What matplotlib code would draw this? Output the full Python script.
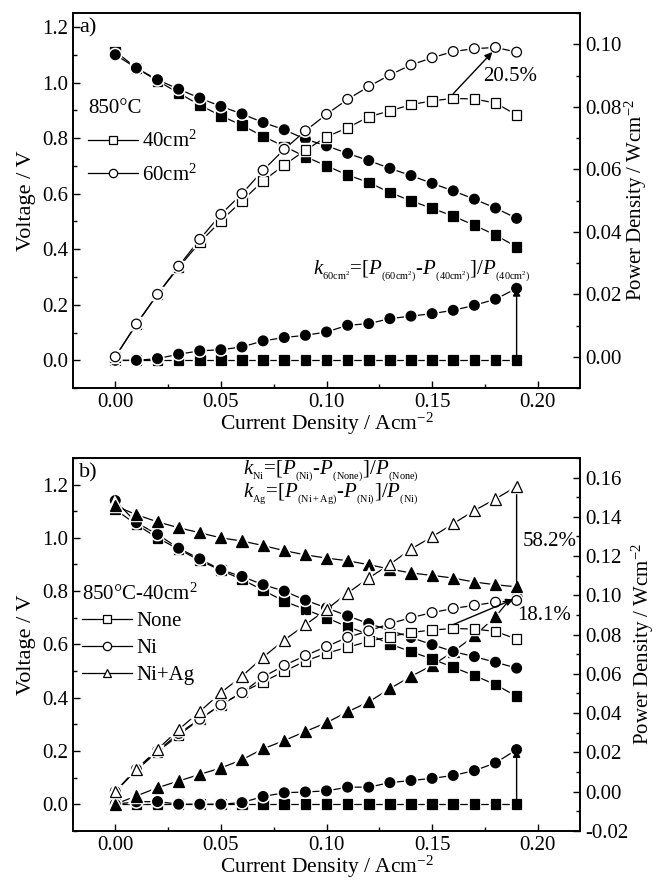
import numpy as np
import matplotlib
matplotlib.use('Agg')
import matplotlib.pyplot as plt
import matplotlib.patheffects as pe
from matplotlib.lines import Line2D
from matplotlib.ticker import MultipleLocator, FormatStrFormatter

plt.rcParams['font.family'] = 'Liberation Serif'
plt.rcParams['mathtext.fontset'] = 'custom'
plt.rcParams['mathtext.rm'] = 'Liberation Serif'
plt.rcParams['mathtext.it'] = 'Liberation Serif:italic'
plt.rcParams['font.size'] = 15

current = [0.00, 0.01, 0.02, 0.03, 0.04, 0.05, 0.06, 0.07, 0.08, 0.09,
           0.10, 0.11, 0.12, 0.13, 0.14, 0.15, 0.16, 0.17, 0.18, 0.19]

# a) 850C, 40 vs 60 cm2 cathode
v40 = [1.112, 1.052, 1.006, 0.962, 0.919, 0.880, 0.846, 0.806, 0.770, 0.733,
       0.700, 0.667, 0.640, 0.604, 0.574, 0.547, 0.519, 0.486, 0.451, 0.408]
v60 = [1.100, 1.052, 1.010, 0.976, 0.944, 0.914, 0.887, 0.856, 0.830, 0.796,
       0.772, 0.745, 0.719, 0.691, 0.665, 0.637, 0.610, 0.580, 0.548, 0.511]
p40 = [0.0, 0.0104, 0.0200, 0.0286, 0.0366, 0.0435, 0.0499, 0.0563, 0.0614, 0.0661,
       0.0704, 0.0733, 0.0768, 0.0787, 0.0807, 0.0819, 0.0827, 0.0825, 0.0812, 0.0774]
p60 = [0.0, 0.0105, 0.0200, 0.0290, 0.0376, 0.0456, 0.0522, 0.0597, 0.0664, 0.0723,
       0.0776, 0.0824, 0.0865, 0.0902, 0.0934, 0.0957, 0.0977, 0.0986, 0.0990, 0.0975]
k60 = [0.0, 0.0, 0.006, 0.022, 0.034, 0.038, 0.048, 0.070, 0.082, 0.090,
       0.102, 0.126, 0.132, 0.150, 0.159, 0.168, 0.180, 0.198, 0.220, 0.259]

# b) 850C-40cm2, infiltration
v_none = [1.106, 1.050, 1.000, 0.957, 0.915, 0.878, 0.844, 0.803, 0.762, 0.731,
          0.700, 0.666, 0.638, 0.601, 0.573, 0.545, 0.514, 0.483, 0.449, 0.405]
v_ni = [1.140, 1.057, 1.013, 0.961, 0.921, 0.880, 0.855, 0.824, 0.800, 0.766,
        0.737, 0.707, 0.678, 0.653, 0.626, 0.599, 0.573, 0.554, 0.533, 0.511]
v_niag = [1.120, 1.087, 1.060, 1.038, 1.019, 1.000, 0.988, 0.971, 0.952, 0.936,
          0.924, 0.914, 0.899, 0.883, 0.868, 0.859, 0.849, 0.834, 0.824, 0.816]
p_none = [0.0, 0.0109, 0.0203, 0.0287, 0.0369, 0.0442, 0.0505, 0.0559, 0.0613, 0.0665,
          0.0705, 0.0735, 0.0766, 0.0789, 0.0811, 0.0823, 0.0831, 0.0828, 0.0816, 0.0777]
p_ni = [0.0, 0.0114, 0.0207, 0.0296, 0.0369, 0.0442, 0.0504, 0.0584, 0.0643, 0.0693,
        0.0739, 0.0786, 0.0819, 0.0856, 0.0886, 0.0912, 0.0933, 0.0949, 0.0965, 0.0974]
p_niag = [0.0, 0.0114, 0.0215, 0.0316, 0.0408, 0.0504, 0.0588, 0.0685, 0.0772, 0.0850,
          0.0928, 0.1012, 0.1088, 0.1158, 0.1236, 0.1298, 0.1365, 0.1432, 0.1491, 0.1555]
k_ni = [0.0, 0.009, 0.010, 0.0, 0.0, 0.0, 0.006, 0.029, 0.043, 0.046,
        0.050, 0.064, 0.064, 0.081, 0.089, 0.097, 0.108, 0.126, 0.155, 0.205]
k_ag = [0.0, 0.031, 0.062, 0.087, 0.112, 0.136, 0.167, 0.208, 0.239, 0.273,
        0.306, 0.347, 0.384, 0.434, 0.480, 0.521, 0.573, 0.632, 0.704, 0.800]
zeros = [0.0] * len(current)

halo = [pe.Stroke(linewidth=3.2, foreground='white'), pe.Normal()]


def curve(ax, y, marker, filled, ms=7):
    ax.plot(current, y, color='k', lw=0.9, zorder=2)
    ax.plot(current, y, ls='none', marker=marker, ms=ms, mec='k', mew=0.9,
            mfc='k' if filled else 'white', path_effects=halo, zorder=3)


def arrow(ax, x0, y0, x1, y1):
    ax.annotate('', xy=(x1, y1), xytext=(x0, y0),
                arrowprops=dict(arrowstyle='-|>', color='k', lw=1.0,
                                mutation_scale=11, shrinkA=0, shrinkB=0),
                zorder=4)


def style_axes(ax, ax2, ylim, ylim2):
    ax.set_xlim(-0.02, 0.22)
    ax.set_ylim(*ylim)
    ax2.set_ylim(*ylim2)
    ax.xaxis.set_major_locator(MultipleLocator(0.05))
    ax.xaxis.set_minor_locator(MultipleLocator(0.025))
    ax.xaxis.set_major_formatter(FormatStrFormatter('%.2f'))
    ax.yaxis.set_major_locator(MultipleLocator(0.2))
    ax.yaxis.set_minor_locator(MultipleLocator(0.1))
    ax.yaxis.set_major_formatter(FormatStrFormatter('%.1f'))
    ax2.yaxis.set_major_locator(MultipleLocator(0.02))
    ax2.yaxis.set_minor_locator(MultipleLocator(0.01))
    ax2.yaxis.set_major_formatter(FormatStrFormatter('%.2f'))
    for a in (ax, ax2):
        a.tick_params(which='both', direction='in', top=False, labelsize=15)
        a.tick_params(which='major', length=5, width=1)
        a.tick_params(which='minor', length=3, width=1)
        for s in a.spines.values():
            s.set_linewidth(1.2)
    ax.tick_params(which='both', right=False)
    ax.set_ylabel('Voltage / V', fontsize=16)
    ax2.set_ylabel('Power Density / Wcm$^{-2}$', fontsize=15, labelpad=1)
    ax.set_xlabel('Current Density / Acm$^{-2}$', fontsize=15.5, labelpad=-1)


def handle(marker):
    return Line2D([], [], color='k', lw=0.9, marker=marker, ms=6,
                  mfc='white', mec='k', mew=0.9)


fig = plt.figure(figsize=(6.59, 8.82), dpi=100)

# ---- a) ----
ax = fig.add_axes([0.1108, 0.560, 0.7693, 0.4252])
ax2 = ax.twinx()
curve(ax, zeros, 's', True)
curve(ax, k60, 'o', True)
curve(ax, v40, 's', True)
curve(ax, v60, 'o', True)
curve(ax2, p40, 's', False)
curve(ax2, p60, 'o', False)
style_axes(ax, ax2, (-0.1, 1.25), (-0.01, 0.11))
arrow(ax, current[-1], zeros[-1], current[-1], k60[-1])
arrow(ax2, current[16], p40[16] + 0.0015, current[18] - 0.0015, p60[18] - 0.0015)
ax2.text(0.187, 0.0898, '20.5%', ha='center', va='center', fontsize=15)
ax.text(0.0935, 0.31,
        r'$k_{_{\rm 60cm^2}}$=[$P_{_{\rm (60cm^2)}}$-$P_{_{\rm (40cm^2)}}$]/$P_{_{\rm (40cm^2)}}$',
        ha='left', va='baseline', fontsize=15)
ax.text(0.012, 0.985, 'a)', transform=ax.transAxes, ha='left', va='top', fontsize=16)
ax.legend([handle('s'), handle('o')], ['40cm$^2$', '60cm$^2$'],
          title='850°C', title_fontsize=15, fontsize=15, loc='upper left',
          bbox_to_anchor=(0.03, 0.77), frameon=False, borderpad=0,
          borderaxespad=0, handlelength=2.4, handletextpad=0.2,
          labelspacing=0.6, alignment='left')

# ---- b) ----
bx = fig.add_axes([0.1108, 0.058, 0.7693, 0.4228])
bx2 = bx.twinx()
curve(bx, zeros, 's', True)
curve(bx, k_ni, 'o', True)
curve(bx, k_ag, '^', True, ms=8)
curve(bx, v_none, 's', True)
curve(bx, v_ni, 'o', True)
curve(bx, v_niag, '^', True, ms=8)
curve(bx2, p_none, 's', False)
curve(bx2, p_ni, 'o', False)
curve(bx2, p_niag, '^', False, ms=8)
style_axes(bx, bx2, (-0.1, 1.3), (-0.02, 0.17))
arrow(bx, current[-1], zeros[-1], current[-1], k_ni[-1])
arrow(bx, current[-1], v_niag[-1], current[-1], 1.205)
arrow(bx2, current[16], p_none[16] + 0.002, 0.1885, 0.098)
bx2.text(0.2056, 0.1273, '58.2%', ha='center', va='center', fontsize=15)
bx2.text(0.2032, 0.0896, '18.1%', ha='center', va='center', fontsize=15)
bx.text(0.0603, 1.238,
        r'$k_{_{\rm Ni}}$=[$P_{_{\rm (Ni)}}$-$P_{_{\rm (None)}}$]/$P_{_{\rm (None)}}$',
        ha='left', va='baseline', fontsize=15)
bx.text(0.0603, 1.150,
        r'$k_{_{\rm Ag}}$=[$P_{_{\rm (Ni+Ag)}}$-$P_{_{\rm (Ni)}}$]/$P_{_{\rm (Ni)}}$',
        ha='left', va='baseline', fontsize=15)
bx.text(0.012, 0.985, 'b)', transform=bx.transAxes, ha='left', va='top', fontsize=16)
bx.legend([handle('s'), handle('o'), handle('^')], ['None', 'Ni', 'Ni+Ag'],
          title='850°C-40cm$^2$', title_fontsize=15, fontsize=15, loc='upper left',
          bbox_to_anchor=(0.018, 0.664), frameon=False, borderpad=0,
          borderaxespad=0, handlelength=2.4, handletextpad=0.2,
          labelspacing=0.35, alignment='left')

fig.savefig('out.png', dpi=100)
